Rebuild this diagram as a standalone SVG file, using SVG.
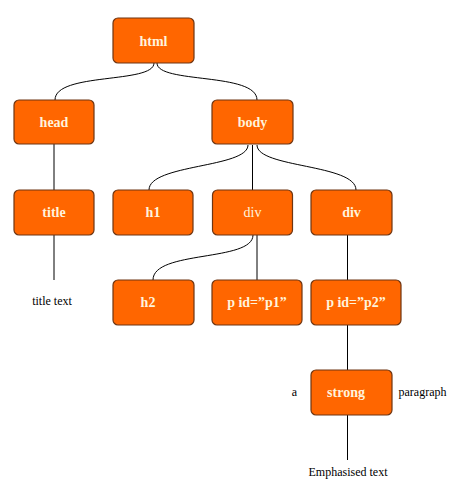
<svg xmlns="http://www.w3.org/2000/svg" width="462" height="495" viewBox="0 0 462 495">
<style>
.box{fill:#ff6600;stroke:#6e3512;stroke-width:1.2}
.lbl{font-family:"Liberation Serif","Times New Roman",serif;font-size:14px;font-weight:bold;fill:#fff3dc;text-anchor:middle}
.lbl.n{font-weight:normal}
.txt{font-family:"Liberation Serif","Times New Roman",serif;font-size:12px;fill:#000;text-anchor:middle}
.con{fill:none;stroke:#000;stroke-width:1}
</style>
<rect width="462" height="495" fill="#fff"/>
<g id="connectors">
<path class="con" d="M154,63 C154,84 55,72 55,100"/>
<path class="con" d="M157,63 C157,84 257,72 257,100"/>
<path class="con" d="M54,144 L54,190"/>
<path class="con" d="M248,145 C248,168 149,164 149,190"/>
<path class="con" d="M252.5,145 L252.5,190"/>
<path class="con" d="M257,145 C257,168 356,164 356,190"/>
<path class="con" d="M54,235 L54,280"/>
<path class="con" d="M253,235 C253,262 153,250 153,280"/>
<path class="con" d="M257,235 L257,280"/>
<path class="con" d="M347.5,235 L347.5,280"/>
<path class="con" d="M347.5,325 L347.5,370"/>
<path class="con" d="M347.5,415 L347.5,460"/>
</g>
<g id="html"><rect class="box" x="113" y="18" width="81" height="45" rx="5"/><text class="lbl" x="153.5" y="46">html</text></g>
<g id="head"><rect class="box" x="14" y="100" width="80" height="44" rx="5"/><text class="lbl" x="54" y="127">head</text></g>
<g id="body"><rect class="box" x="212" y="100" width="81" height="44" rx="5"/><text class="lbl" x="252.5" y="127">body</text></g>
<g id="title"><rect class="box" x="14" y="190" width="80" height="45" rx="5"/><text class="lbl" x="54" y="217">title</text></g>
<g id="h1"><rect class="box" x="113" y="190" width="80" height="45" rx="5"/><text class="lbl" x="153" y="217">h1</text></g>
<g id="div1"><rect class="box" x="212.5" y="190" width="80" height="45" rx="5"/><text class="lbl n" x="252.5" y="217">div</text></g>
<g id="div2"><rect class="box" x="311" y="190" width="81" height="45" rx="5"/><text class="lbl" x="351.5" y="217">div</text></g>
<g id="h2"><rect class="box" x="113" y="280" width="81" height="45" rx="5"/><text class="lbl" x="148" y="307">h2</text></g>
<g id="p1"><rect class="box" x="212" y="280" width="90" height="45" rx="5"/><text class="lbl" x="257" y="307">p id=”p1”</text></g>
<g id="p2"><rect class="box" x="311" y="280" width="90" height="45" rx="5"/><text class="lbl" x="356" y="307">p id=”p2”</text></g>
<g id="strong"><rect class="box" x="311" y="370" width="81" height="45" rx="5"/><text class="lbl" x="346" y="397">strong</text></g>
<g id="title-text"><text class="txt" x="52" y="305">title text</text></g>
<g id="a"><text class="txt" x="294.5" y="396">a</text></g>
<g id="paragraph"><text class="txt" x="422.5" y="396">paragraph</text></g>
<g id="emphasised"><text class="txt" x="348" y="476">Emphasised text</text></g>
</svg>
